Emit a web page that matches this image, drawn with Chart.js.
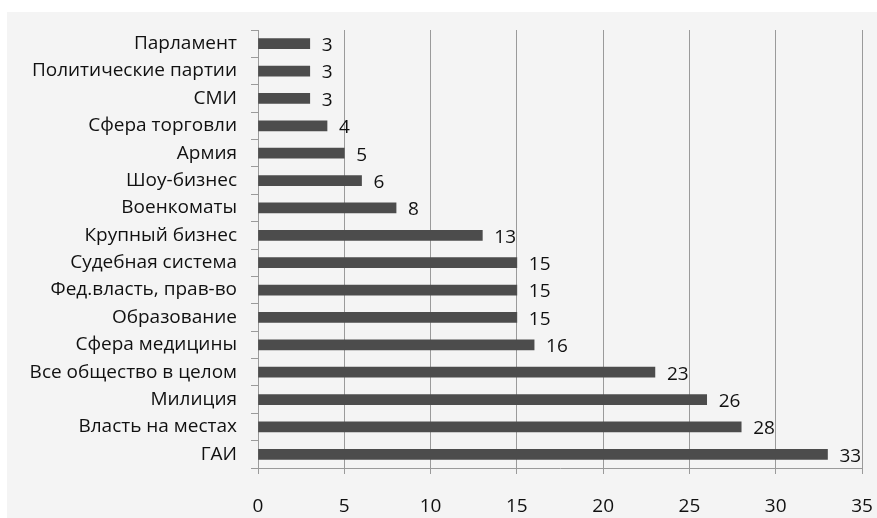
<!DOCTYPE html>
<html>
<head>
<meta charset="utf-8">
<script src="https://cdn.jsdelivr.net/npm/chart.js@4"></script>
<style>
  html, body { margin: 0; padding: 0; background: #fff; }
  #wrap { width: 877px; height: 518px; position: relative; }
</style>
</head>
<body>
<div id="wrap"><canvas id="chart"></canvas></div>
<script>
const categories = ['Парламент', 'Политические партии', 'СМИ', 'Сфера торговли', 'Армия', 'Шоу-бизнес',
  'Военкоматы', 'Крупный бизнес', 'Судебная система', 'Фед.власть, прав-во', 'Образование',
  'Сфера медицины', 'Все общество в целом', 'Милиция', 'Власть на местах', 'ГАИ'];
const values = [3, 3, 3, 4, 5, 6, 8, 13, 15, 15, 15, 16, 23, 26, 28, 33];
const xTicks = [0, 5, 10, 15, 20, 25, 30, 35];

const fontFamily = '"Open Sans", "Liberation Sans", sans-serif';

const background = {
  id: 'background',
  beforeDraw(chart) {
    const c = chart.ctx;
    c.save();
    c.fillStyle = '#ffffff';
    c.fillRect(0, 0, chart.width, chart.height);
    c.fillStyle = '#f4f4f4';
    c.fillRect(7, 12, chart.width - 7, chart.height - 12);
    c.restore();
  }
};

const valueLabels = {
  id: 'valueLabels',
  afterDatasetsDraw(chart) {
    const c = chart.ctx;
    const meta = chart.getDatasetMeta(0);
    c.save();
    c.font = '19px ' + fontFamily;
    c.fillStyle = '#111';
    c.textAlign = 'left';
    c.textBaseline = 'middle';
    meta.data.forEach((bar, i) => {
      c.fillText(String(values[i]), bar.x + 12, bar.y + 2);
    });
    c.restore();
  }
};

new Chart(document.getElementById('chart'), {
  type: 'bar',
  data: {
    labels: categories,
    datasets: [{
      data: values,
      backgroundColor: '#4c4c4c',
      barThickness: 10
    }]
  },
  options: {
    indexAxis: 'y',
    responsive: true,
    maintainAspectRatio: false,
    animation: false,
    layout: { padding: { top: 30, right: 15, left: 0, bottom: 0 } },
    plugins: {
      legend: { display: false },
      tooltip: { enabled: false }
    },
    scales: {
      x: {
        min: 0,
        max: 35,
        afterBuildTicks(axis) { axis.ticks = xTicks.map(v => ({ value: v })); },
        afterFit(axis) { axis.height = 50; axis.paddingRight = 0; axis.paddingLeft = 0; },
        grid: { color: '#9a9a9a', lineWidth: 1, tickLength: 6, drawOnChartArea: true },
        border: { display: true, color: '#9a9a9a' },
        ticks: {
          padding: 21,
          color: '#111',
          font: { size: 19, family: fontFamily }
        }
      },
      y: {
        afterFit(axis) { axis.width = 258; },
        grid: { drawOnChartArea: false, color: '#9a9a9a', tickLength: 7 },
        border: { display: true, color: '#9a9a9a' },
        ticks: {
          padding: 14,
          color: '#111',
          font: { size: 19, family: fontFamily }
        }
      }
    }
  },
  plugins: [background, valueLabels]
});
</script>
</body>
</html>
